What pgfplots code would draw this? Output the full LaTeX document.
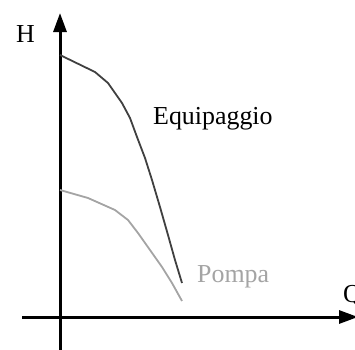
\documentclass[border=0pt]{standalone}
\usepackage{pgfplots}
\pgfplotsset{compat=1.18}
\usetikzlibrary{arrows.meta}
\usepackage{fontspec}
\setmainfont{Liberation Serif}
\definecolor{darkc}{HTML}{404040}
\definecolor{lightc}{HTML}{A4A4A4}
\tikzset{lbl/.style={font=\fontsize{26}{30}\selectfont, inner sep=0pt}}
\begin{document}
\begin{tikzpicture}
\useasboundingbox (0,0) rectangle (355bp,350bp);
\begin{axis}[
  at={(0,0)}, anchor=south west,
  scale only axis, width=355bp, height=350bp,
  xmin=0, xmax=355, ymin=0, ymax=350, y dir=reverse,
  hide axis, clip=false,
]
\draw[line width=3bp, -{Triangle[length=19bp,width=13bp]}] (axis cs:22,317) -- (axis cs:358,317);
\draw[line width=3bp, -{Triangle[length=19bp,width=13bp]}] (axis cs:60,350) -- (axis cs:60,13);
\addplot[color=darkc, line width=1.8bp, line join=round] coordinates {
 (60,55) (95,72) (108,83) (115,93) (122,103) (130,118) (137,137) (145,158) (152,180) (160,207) (168,235) (175,260) (182,283)};
\addplot[color=lightc, line width=1.8bp, line join=round] coordinates {
 (60,190) (88,198) (115,210) (128,220) (138,233) (150,250) (162,267) (172,283) (182,301)};
\node[lbl, anchor=base west] at (axis cs:153,124) {Equipaggio};
\node[lbl, anchor=base west, text=lightc] at (axis cs:197,282) {Pompa};
\node[lbl, anchor=base west] at (axis cs:16,42) {H};
\node[lbl, anchor=base west] at (axis cs:343,302) {Q};
\end{axis}
\end{tikzpicture}
\end{document}
